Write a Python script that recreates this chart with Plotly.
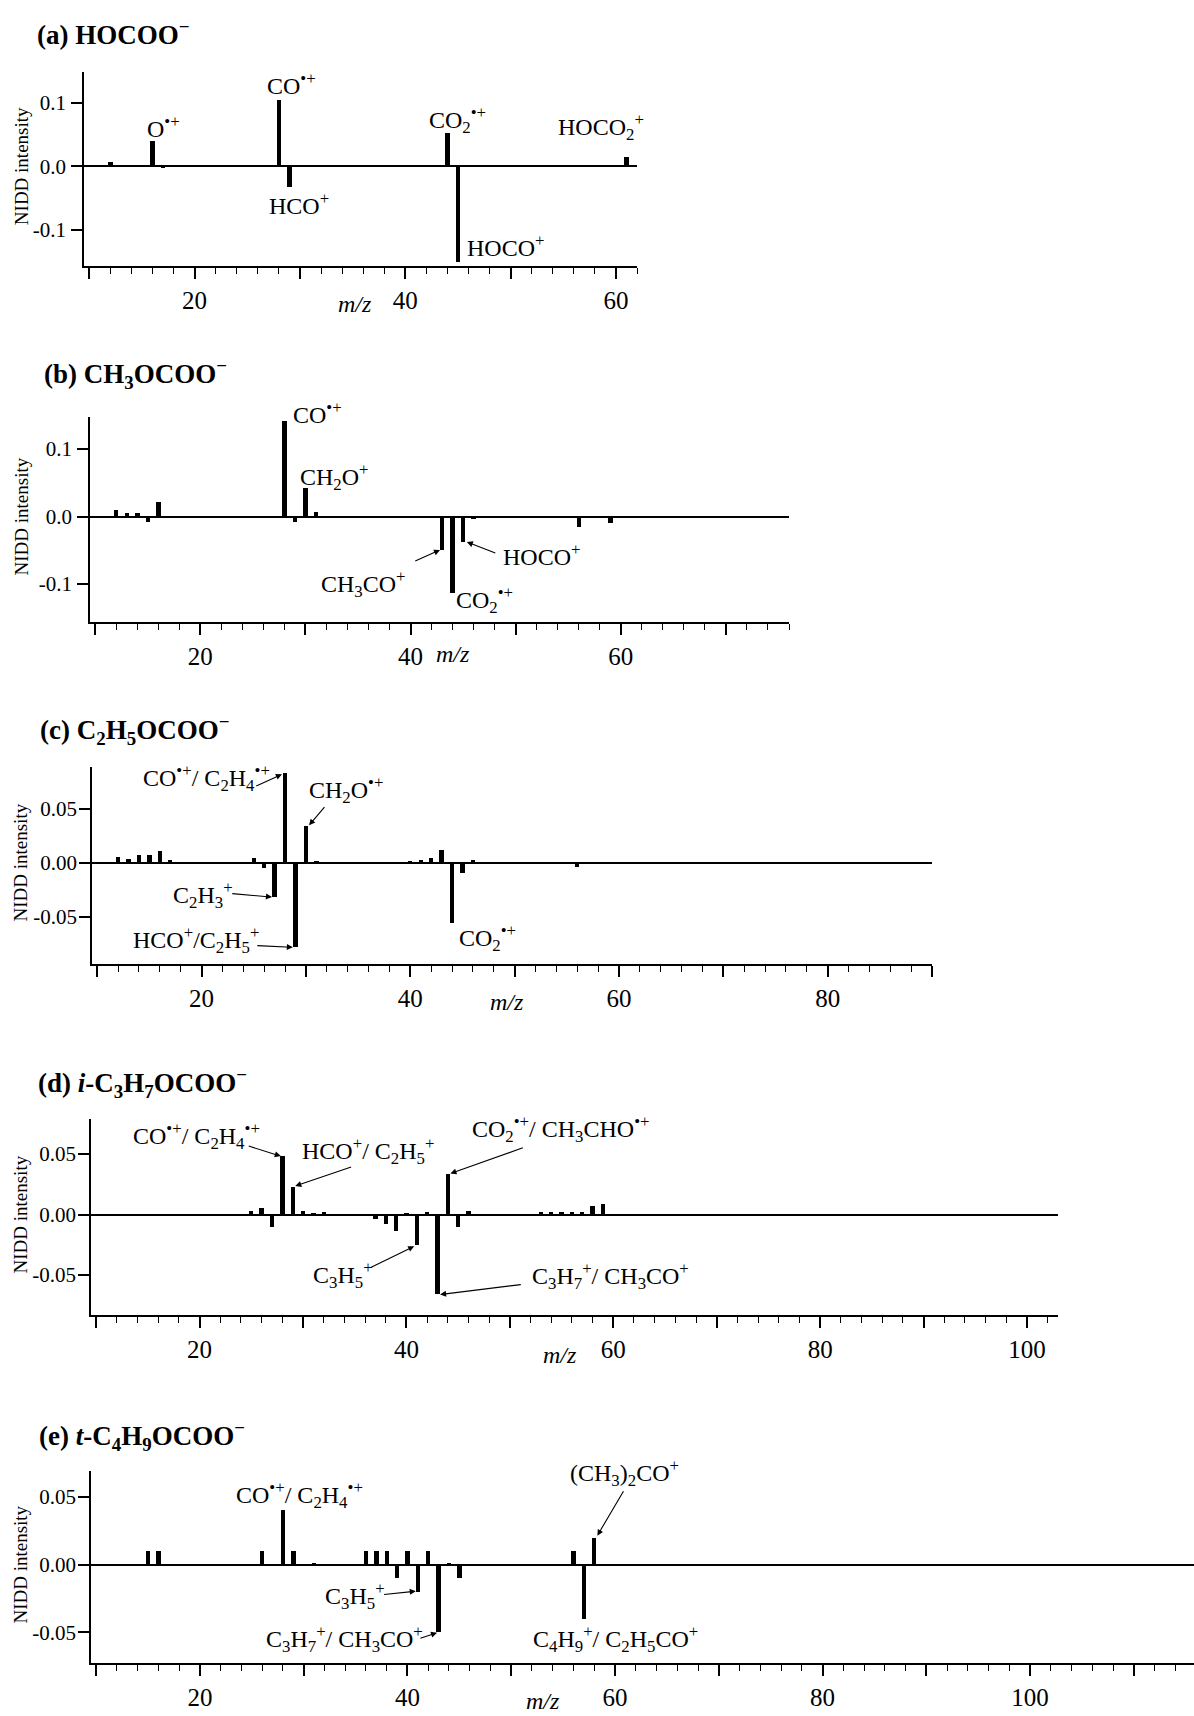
import plotly.graph_objects as go

FONT = "Liberation Serif, Times New Roman, serif"
W, H = 1194, 1716

# ---------------- data ----------------
a_mz = [12, 16, 17, 28, 29, 44, 45, 61]
a_val = [0.006, 0.039, -0.003, 0.105, -0.033, 0.052, -0.151, 0.015]

b_mz = [12, 13, 14, 15, 16, 28, 29, 30, 31, 32, 43, 44, 45, 46, 56, 59]
b_val = [0.010, 0.005, 0.005, -0.008, 0.021, 0.141, -0.008, 0.042, 0.006, -0.002,
         -0.049, -0.114, -0.038, -0.004, -0.016, -0.009]

c_mz = [12, 13, 14, 15, 16, 17, 25, 26, 27, 28, 29, 30, 31, 32, 40, 41, 42, 43, 44, 45, 46, 56]
c_val = [0.0053, 0.003, 0.0066, 0.0072, 0.0106, 0.0023, 0.004, -0.0046, -0.032, 0.0826,
         -0.0783, 0.0335, 0.0012, -0.0008, 0.001, 0.0027, 0.0043, 0.0119, -0.0564, -0.010,
         0.002, -0.0043]

d_mz = [25, 26, 27, 28, 29, 30, 31, 32, 37, 38, 39, 40, 41, 42, 43, 44, 45, 46,
        53, 54, 55, 56, 57, 58, 59]
d_val = [0.0033, 0.0053, -0.0103, 0.048, 0.0228, 0.0028, 0.001, 0.0017, -0.0036, -0.0075,
         -0.0139, 0.0014, -0.0256, 0.0022, -0.066, 0.0333, -0.0106, 0.0028,
         0.0017, 0.0022, 0.002, 0.0017, 0.002, 0.0067, 0.0083]

e_mz = [15, 16, 26, 28, 29, 31, 36, 37, 38, 39, 40, 41, 42, 43, 44, 45, 56, 57, 58]
e_val = [0.01, 0.01, 0.01, 0.04, 0.01, 0.001, 0.01, 0.01, 0.01, -0.01, 0.01, -0.02,
         0.01, -0.05, 0.0015, -0.01, 0.01, -0.04, 0.02]

titles = [
    "<b>(a) HOCOO<sup>−</sup></b>",
    "<b>(b) CH<sub>3</sub>OCOO<sup>−</sup></b>",
    "<b>(c) C<sub>2</sub>H<sub>5</sub>OCOO<sup>−</sup></b>",
    "<b>(d) <i>i</i>-C<sub>3</sub>H<sub>7</sub>OCOO<sup>−</sup></b>",
    "<b>(e) <i>t</i>-C<sub>4</sub>H<sub>9</sub>OCOO<sup>−</sup></b>",
]

# ---------------- layout geometry (pixels) ----------------
panels = [
    dict(mz=a_mz, val=a_val, px=(84, 637), py=(72, 266), xr=(9.5, 62), yr=(-0.1575, 0.1485),
         yt=[-0.1, 0.0, 0.1], ytt=["-0.1", "0.0", "0.1"], title_xy=(35, 33), mz_lab=35.2, mz_dy=1.2, ysoff=1),
    dict(mz=b_mz, val=b_val, px=(90, 789), py=(417, 622), xr=(9.5, 76), yr=(-0.1563, 0.1474),
         yt=[-0.1, 0.0, 0.1], ytt=["-0.1", "0.0", "0.1"], title_xy=(42, 374), mz_lab=44.0, mz_dy=1.0, ysoff=1),
    dict(mz=c_mz, val=c_val, px=(92, 932), py=(767, 964), xr=(9.5, 90), yr=(-0.0939, 0.0884),
         yt=[-0.05, 0.0, 0.05], ytt=["-0.05", "0.00", "0.05"], title_xy=(38, 730), mz_lab=49.3, mz_dy=1.2, ysoff=-2),
    dict(mz=d_mz, val=d_val, px=(91, 1058), py=(1119, 1315), xr=(9.5, 103), yr=(-0.0831, 0.079),
         yt=[-0.05, 0.0, 0.05], ytt=["-0.05", "0.00", "0.05"], title_xy=(36, 1083), mz_lab=54.8, mz_dy=1.24, ysoff=-2),
    dict(mz=e_mz, val=e_val, px=(91, 1194), py=(1471, 1663), xr=(9.5, 115.8), yr=(-0.0728, 0.0692),
         yt=[-0.05, 0.0, 0.05], ytt=["-0.05", "0.00", "0.05"], title_xy=(37, 1436), mz_lab=53.1, mz_dy=1.2, ysoff=-2),
]

def fx(px):
    return px / W

def fy(py):
    return 1 - py / H

fig = go.Figure()
annotations = []
TICKOFF = 32  # tick label centre below axis, px

for i, p in enumerate(panels, start=1):
    xa = "x" if i == 1 else f"x{i}"
    ya = "y" if i == 1 else f"y{i}"
    fig.add_trace(go.Bar(x=p["mz"], y=p["val"], width=0.42, marker=dict(color="black", line=dict(width=0)),
                         xaxis=xa, yaxis=ya, showlegend=False, hoverinfo="x+y"))
    xmax = p["xr"][1]
    tv = list(range(10, int(xmax) + 1, 10))
    tt = [str(v) if (v % 20 == 0) else "" for v in tv]
    xkey = "xaxis" if i == 1 else f"xaxis{i}"
    ykey = "yaxis" if i == 1 else f"yaxis{i}"
    fig.layout[xkey] = dict(
        domain=[fx(p["px"][0]), fx(p["px"][1])], range=list(p["xr"]), anchor=ya,
        showline=True, linecolor="black", linewidth=1.6, showgrid=False, zeroline=False,
        ticks="outside", ticklen=11, tickwidth=1.6, tickcolor="black",
        tickmode="array", tickvals=tv, ticktext=tt,
        tickfont=dict(family=FONT, size=25, color="black"), ticklabelstandoff=0,
        minor=dict(tickmode="linear", tick0=10, dtick=2, ticks="outside", ticklen=6,
                   tickwidth=1.4, tickcolor="black", showgrid=False),
        fixedrange=True,
    )
    fig.layout[ykey] = dict(
        domain=[fy(p["py"][1]), fy(p["py"][0])], range=list(p["yr"]), anchor=xa,
        showline=True, linecolor="black", linewidth=1.6, showgrid=False,
        zeroline=True, zerolinecolor="black", zerolinewidth=2,
        ticks="outside", ticklen=11, tickwidth=1.6, tickcolor="black",
        tickmode="array", tickvals=p["yt"], ticktext=p["ytt"],
        tickfont=dict(family=FONT, size=21, color="black"), ticklabelstandoff=p["ysoff"],
        fixedrange=True,
    )
    # title
    tx, ty = p["title_xy"]
    annotations.append(dict(x=fx(tx), y=fy(ty), xref="paper", yref="paper", text=titles[i - 1],
                            showarrow=False, xanchor="left", yanchor="middle",
                            font=dict(family=FONT, size=27, color="black")))
    # y-axis title
    zero_px = p["py"][0] + (p["py"][1] - p["py"][0]) * (p["yr"][1] / (p["yr"][1] - p["yr"][0]))
    annotations.append(dict(x=fx(21), y=fy(zero_px), xref="paper", yref="paper", text="NIDD intensity",
                            textangle=-90, showarrow=False, xanchor="center", yanchor="middle",
                            font=dict(family=FONT, size=19, color="black")))
    # x-axis title
    annotations.append(dict(x=p["mz_lab"], y=fy(p["py"][1] + TICKOFF * p["mz_dy"]), xref=xa, yref="paper",
                            text="<i>m/z</i>", showarrow=False, xanchor="center", yanchor="middle",
                            font=dict(family=FONT, size=24, color="black")))

# ---------------- peak labels ----------------
LS = 24

def lab(i, x, y, text, size=LS, yshift=0):
    xa = "x" if i == 1 else f"x{i}"
    ya = "y" if i == 1 else f"y{i}"
    annotations.append(dict(x=x, y=y, xref=xa, yref=ya, text=text, showarrow=False,
                            xanchor="left", yanchor="middle", yshift=yshift,
                            font=dict(family=FONT, size=size, color="black")))

def arr(i, tail, head):
    xa = "x" if i == 1 else f"x{i}"
    ya = "y" if i == 1 else f"y{i}"
    annotations.append(dict(x=head[0], y=head[1], ax=tail[0], ay=tail[1], xref=xa, yref=ya,
                            axref=xa, ayref=ya, text="", showarrow=True, arrowhead=2,
                            arrowsize=1.1, arrowwidth=1.1, arrowcolor="black", standoff=0))

# (a)
lab(1, 15.3, 0.062, "O<sup>•+</sup>")
lab(1, 26.7, 0.129, "CO<sup>•+</sup>")
lab(1, 26.9, -0.060, "HCO<sup>+</sup>")
lab(1, 42.1, 0.0726, "CO<sub>2</sub><sup>•+</sup>")
lab(1, 45.7, -0.126, "HOCO<sup>+</sup>")
lab(1, 54.3, 0.062, "HOCO<sub>2</sub><sup>+</sup>")
# (b)
lab(2, 28.6, 0.146, "CO<sup>•+</sup>", yshift=5)
lab(2, 29.3, 0.058, "CH<sub>2</sub>O<sup>+</sup>")
lab(2, 31.3, -0.1005, "CH<sub>3</sub>CO<sup>+</sup>")
arr(2, (40.3, -0.067), (42.8, -0.0495))
lab(2, 48.6, -0.0574, "HOCO<sup>+</sup>")
arr(2, (48.2, -0.055), (45.35, -0.0376))
lab(2, 44.1, -0.124, "CO<sub>2</sub><sup>•+</sup>")
# (c)
lab(3, 14.2, 0.078, "CO<sup>•+</sup>/ C<sub>2</sub>H<sub>4</sub><sup>•+</sup>")
arr(3, (25.1, 0.0701), (27.7, 0.0817))
lab(3, 30.1, 0.067, "CH<sub>2</sub>O<sup>•+</sup>")
arr(3, (31.9, 0.0527), (30.3, 0.0345))
lab(3, 17.1, -0.0296, "C<sub>2</sub>H<sub>3</sub><sup>+</sup>")
arr(3, (22.8, -0.0287), (26.75, -0.032))
lab(3, 13.2, -0.0713, "HCO<sup>+</sup>/C<sub>2</sub>H<sub>5</sub><sup>+</sup>")
arr(3, (25.2, -0.0768), (28.75, -0.0784))
lab(3, 44.5, -0.0701, "CO<sub>2</sub><sup>•+</sup>")
# (d)
lab(4, 13.4, 0.0647, "CO<sup>•+</sup>/ C<sub>2</sub>H<sub>4</sub><sup>•+</sup>")
arr(4, (24.6, 0.057), (27.85, 0.0483))
lab(4, 29.7, 0.0528, "HCO<sup>+</sup>/ C<sub>2</sub>H<sub>5</sub><sup>+</sup>")
arr(4, (34.8, 0.0397), (29.25, 0.0236))
lab(4, 46.1, 0.0708, "CO<sub>2</sub><sup>•+</sup>/ CH<sub>3</sub>CHO<sup>•+</sup>")
arr(4, (51.4, 0.0556), (44.25, 0.0339))
lab(4, 30.8, -0.050, "C<sub>3</sub>H<sub>5</sub><sup>+</sup>")
arr(4, (36.4, -0.0444), (40.75, -0.0262))
lab(4, 51.9, -0.0508, "C<sub>3</sub>H<sub>7</sub><sup>+</sup>/ CH<sub>3</sub>CO<sup>+</sup>")
arr(4, (51.2, -0.0578), (43.25, -0.0662))
# (e)
lab(5, 23.3, 0.0517, "CO<sup>•+</sup>/ C<sub>2</sub>H<sub>4</sub><sup>•+</sup>")
lab(5, 55.5, 0.0677, "(CH<sub>3</sub>)<sub>2</sub>CO<sup>+</sup>")
arr(5, (60.9, 0.0554), (58.3, 0.0214))
lab(5, 31.9, -0.0234, "C<sub>3</sub>H<sub>5</sub><sup>+</sup>")
arr(5, (37.6, -0.0222), (40.8, -0.0197))
lab(5, 26.2, -0.0554, "C<sub>3</sub>H<sub>7</sub><sup>+</sup>/ CH<sub>3</sub>CO<sup>+</sup>")
arr(5, (41.1, -0.0549), (42.85, -0.0505))
lab(5, 51.9, -0.0554, "C<sub>4</sub>H<sub>9</sub><sup>+</sup>/ C<sub>2</sub>H<sub>5</sub>CO<sup>+</sup>")

fig.update_layout(
    width=W, height=H, margin=dict(l=0, r=0, t=0, b=0),
    paper_bgcolor="white", plot_bgcolor="white",
    font=dict(family=FONT, color="black"),
    annotations=annotations, showlegend=False, bargap=0,
)

fig.write_html("out.html", config={"displayModeBar": False},
               post_script="document.body.style.margin='0';document.body.style.overflow='hidden';")
